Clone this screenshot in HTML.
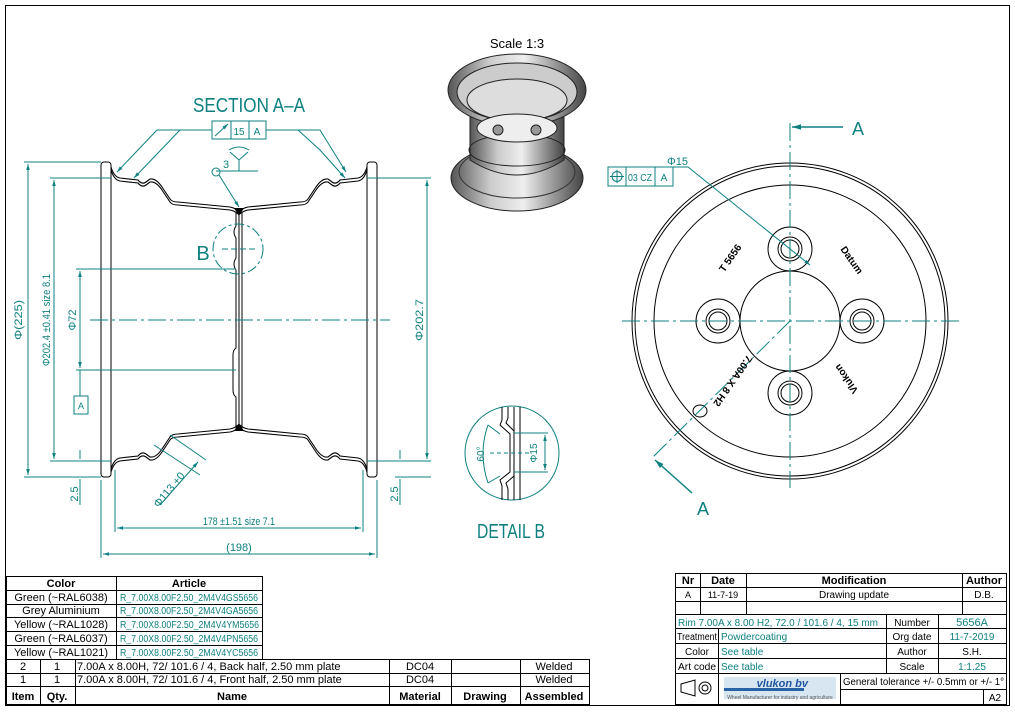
<!DOCTYPE html>
<html><head><meta charset="utf-8"><style>
html,body{margin:0;padding:0;background:#fff}
svg{display:block}
.t{font-family:"Liberation Sans",sans-serif;fill:#0e8080}
.k{font-family:"Liberation Sans",sans-serif;fill:#000}
.tb{font-family:"Liberation Sans",sans-serif;font-weight:bold;fill:#000}
</style></head><body>
<svg width="1015" height="714" viewBox="0 0 1015 714" xmlns="http://www.w3.org/2000/svg">
<defs>
<linearGradient id="g1" x1="0" x2="1"><stop offset="0" stop-color="#555"/><stop offset=".3" stop-color="#ccc"/><stop offset=".55" stop-color="#eee"/><stop offset="1" stop-color="#444"/></linearGradient>
<path id="prof" d="M111,167 Q114,177 120,178 L138,180 Q142,185 146,182 L150,179 Q156,178 162,187 L170,199 Q172,202 178,202 L230,207 Q235,208 238,211" fill="none" stroke="#000" stroke-width="1.1"/>
<g id="half">
<use href="#prof"/>
<use href="#prof" transform="translate(0,3)"/>
</g>
<marker id="ar" viewBox="0 0 10 10" refX="10" refY="5" markerWidth="8" markerHeight="6" orient="auto-start-reverse"><path d="M0,2 L10,5 L0,8z" fill="#0e8080"/></marker>
</defs>
<rect x="5.5" y="5.5" width="1004" height="700" fill="none" stroke="#000" stroke-width="1"/>

<!-- SECTION A-A -->
<text x="193" y="112" class="t" font-size="20" textLength="112" lengthAdjust="spacingAndGlyphs">SECTION A–A</text>
<g stroke="#000" fill="none" stroke-width="1">
<rect x="101" y="162" width="10" height="315" rx="3"/>
<rect x="367" y="162" width="10" height="315" rx="3"/>
<use href="#half"/>
<use href="#half" transform="matrix(-1,0,0,1,478,0)"/>
<use href="#half" transform="matrix(1,0,0,-1,0,639)"/>
<use href="#half" transform="matrix(-1,0,0,-1,478,639)"/>
<path d="M236,212 V226 Q232,232 236,238 V258 Q232,264 236,270 V348 Q233,350 233,355 V390 Q233,395 236,397 V428"/>
<path d="M239,212 V428 M242,212 V428"/>
</g>
<path d="M234,208 L244,208 L239,216z M234,431 L244,431 L239,423z" fill="#000"/>
<g stroke="#0e8080" fill="none" stroke-width="1">
<line x1="90" y1="320" x2="390" y2="320" stroke-dasharray="18,4,3,4"/>
<circle cx="238" cy="249" r="25" stroke-dasharray="10,3,3,3"/>
<line x1="222" y1="249" x2="256" y2="249" stroke-dasharray="6,3"/>
<rect x="212" y="121" width="54" height="18"/>
<line x1="231" y1="121" x2="231" y2="139"/><line x1="249" y1="121" x2="249" y2="139"/>
<line x1="215" y1="136" x2="228" y2="124" marker-end="url(#ar)"/>
<path d="M212,130 H157 L117,172" marker-end="url(#ar)"/>
<path d="M180,130 L134,178" marker-end="url(#ar)"/>
<path d="M266,130 H320 L346,172" marker-end="url(#ar)"/>
<path d="M298,130 L320,150 L345,178" marker-end="url(#ar)"/>
<circle cx="216" cy="172" r="4"/>
<path d="M219,175 L239,207" marker-end="url(#ar)"/>
<path d="M216,171 H258 M239,171 V160 M230,152 L239,160 L248,152 M229,150 Q239,144 249,150"/>
<path d="M24,162 H101 M24,477 H101 M50,178 H111 M50,461 H111 M76,269 H236 M76,370 H236 M367,178 H431 M367,461 H431 M76,477 H101 M395,461 H431 M395,477 H431"/>
<line x1="28" y1="164" x2="28" y2="475" marker-start="url(#ar)" marker-end="url(#ar)"/>
<line x1="54" y1="180" x2="54" y2="459" marker-start="url(#ar)" marker-end="url(#ar)"/>
<line x1="80" y1="271" x2="80" y2="368" marker-start="url(#ar)" marker-end="url(#ar)"/>
<line x1="80" y1="370" x2="80" y2="396"/>
<rect x="74" y="396" width="14" height="18"/>
<line x1="427" y1="180" x2="427" y2="459" marker-start="url(#ar)" marker-end="url(#ar)"/>
<path d="M80,450 V459 M80,479 V505 M400,450 V459 M400,479 V505"/>
<path d="M115,470 V532 M363,470 V532 M101,480 V558 M377,480 V558"/>
<line x1="117" y1="528" x2="361" y2="528" marker-start="url(#ar)" marker-end="url(#ar)"/>
<line x1="103" y1="554" x2="375" y2="554" marker-start="url(#ar)" marker-end="url(#ar)"/>
<path d="M154,445 L200,475 M170,435 L206,460"/>
<line x1="160" y1="505" x2="198" y2="462" marker-end="url(#ar)"/>
</g>
<g class="t" font-size="11" text-anchor="middle">
<text x="22" y="320" transform="rotate(-90 22 320)" textLength="40" lengthAdjust="spacingAndGlyphs">Φ(225)</text>
<text x="50" y="320" transform="rotate(-90 50 320)" textLength="92" lengthAdjust="spacingAndGlyphs">Φ202.4 ±0.41 size 8.1</text>
<text x="76" y="320" transform="rotate(-90 76 320)">Φ72</text>
<text x="423" y="320" transform="rotate(-90 423 320)" textLength="42" lengthAdjust="spacingAndGlyphs">Φ202.7</text>
<text x="78" y="494" transform="rotate(-90 78 494)">2.5</text>
<text x="398" y="494" transform="rotate(-90 398 494)">2.5</text>
<text x="239" y="525" textLength="72" lengthAdjust="spacingAndGlyphs">178 ±1.51 size 7.1</text>
<text x="239" y="551">(198)</text>
<text x="172" y="492" transform="rotate(-50 172 492)">Φ113 +0</text>
</g>
<text x="81" y="409" class="t" font-size="9" text-anchor="middle">A</text>
<text x="239" y="135" class="t" font-size="10" text-anchor="middle">15</text>
<text x="257" y="135" class="t" font-size="10" text-anchor="middle">A</text>
<text x="223" y="168" class="t" font-size="11">3</text>
<text x="203" y="260" class="t" font-size="20" text-anchor="middle">B</text>

<!-- 3D view -->
<text x="517" y="48" class="k" font-size="13" text-anchor="middle">Scale 1:3</text>
<g stroke="#222" stroke-width="1">
<ellipse cx="517" cy="178" rx="66" ry="33" fill="url(#g1)"/>
<ellipse cx="517" cy="172" rx="58" ry="26" fill="none" stroke="#333"/>
<path d="M470,100 L470,160 Q517,190 564,160 L564,100z" fill="url(#g1)"/>
<ellipse cx="517" cy="150" rx="48" ry="16" fill="none"/>
<ellipse cx="517" cy="90" rx="69" ry="36" fill="url(#g1)"/>
<ellipse cx="517" cy="92" rx="60" ry="29" fill="#ccc"/>
<ellipse cx="517" cy="100" rx="50" ry="21" fill="#ddd"/>
<ellipse cx="517" cy="128" rx="40" ry="14" fill="#eee"/>
<circle cx="498" cy="130" r="5" fill="#999"/><circle cx="536" cy="130" r="5" fill="#999"/>
</g>

<!-- DETAIL B -->
<circle cx="512" cy="453" r="47" fill="none" stroke="#0e8080"/>
<g stroke="#000" fill="none" stroke-width="1">
<path d="M502,407 V420 L500,425 L510,434 V472 L500,480 L502,486 V500"/>
<path d="M508,407 V418 L506,423 L514,431 V476 L506,483 L508,489 V500"/>
<path d="M514,407 V500 M520,407 V500"/>
</g>
<g stroke="#0e8080" fill="none">
<path d="M514,433 H548 M514,472 H548"/>
<line x1="545" y1="435" x2="545" y2="470" marker-start="url(#ar)" marker-end="url(#ar)"/>
<line x1="490" y1="453" x2="530" y2="453" stroke-dasharray="4,3"/>
<path d="M488,425 Q478,453 488,483"/>
<path d="M488,425 L500,434 M488,483 L500,476"/>
</g>
<text x="537" y="453" class="t" font-size="10" transform="rotate(-90 537 453)" text-anchor="middle">Φ15</text>
<text x="484" y="454" class="t" font-size="10" transform="rotate(-90 484 454)" text-anchor="middle">60°</text>
<text x="477" y="538" class="t" font-size="20" textLength="68" lengthAdjust="spacingAndGlyphs">DETAIL B</text>

<!-- FRONT VIEW -->
<g stroke="#000" fill="none" stroke-width="1">
<circle cx="790" cy="321" r="158"/><circle cx="790" cy="321" r="155"/><circle cx="790" cy="321" r="136"/>
<circle cx="790" cy="321" r="50"/>
<g id="bh"><circle cx="790" cy="249" r="22"/><circle cx="790" cy="249" r="12"/><circle cx="790" cy="249" r="9"/></g>
<use href="#bh" transform="rotate(90 790 321)"/><use href="#bh" transform="rotate(180 790 321)"/><use href="#bh" transform="rotate(270 790 321)"/>
<ellipse cx="700" cy="411" rx="7" ry="6"/>
</g>
<g stroke="#0e8080" fill="none">
<line x1="622" y1="321" x2="960" y2="321" stroke-dasharray="18,4,3,4"/>
<line x1="790" y1="123" x2="790" y2="488" stroke-dasharray="18,4,3,4"/>
<line x1="790" y1="321" x2="652" y2="458" stroke-dasharray="18,4,3,4"/>
<line x1="843" y1="127" x2="792" y2="127" marker-end="url(#ar)" stroke-width="1.5"/>
<line x1="692" y1="493" x2="655" y2="460" marker-end="url(#ar)" stroke-width="1.5"/>
<rect x="608" y="167" width="65" height="19"/>
<line x1="626" y1="167" x2="626" y2="186"/><line x1="655" y1="167" x2="655" y2="186"/>
<circle cx="617" cy="176.5" r="5"/><path d="M610,176.5 H624 M617,170 V183"/>
<path d="M673,167 H688 L810,265" marker-end="url(#ar)"/>
</g>
<text x="858" y="135" class="t" font-size="18" text-anchor="middle">A</text>
<text x="703" y="515" class="t" font-size="18" text-anchor="middle">A</text>
<text x="667" y="165" class="t" font-size="11">Φ15</text>
<text x="640" y="181" class="t" font-size="10" text-anchor="middle" textLength="24" lengthAdjust="spacingAndGlyphs">03 CZ</text>
<text x="664" y="181" class="t" font-size="10" text-anchor="middle">A</text>
<g class="k" font-size="10" font-weight="bold" text-anchor="middle">
<text transform="translate(733,260) rotate(-55)">T 5656</text>
<text transform="translate(849,262) rotate(55)">Datum</text>
<text transform="translate(730,379) rotate(125)">7.00A X 8 H2</text>
<text transform="translate(849,377) rotate(235)">Vlukon</text>
</g>

<!-- Color table -->
<g stroke="#000" fill="none" stroke-width="1">
<rect x="6.5" y="576.5" width="256" height="83"/>
<path d="M116.5,576.5 V659.5 M6.5,590.5 H262.5 M6.5,604.5 H262.5 M6.5,617.5 H262.5 M6.5,631.5 H262.5 M6.5,645.5 H262.5"/>
<rect x="6.5" y="659.5" width="583" height="45"/>
<path d="M6.5,673.5 H589.5 M6.5,686.5 H589.5 M40.5,659.5 V704.5 M75.5,659.5 V704.5 M389.5,659.5 V704.5 M451.5,659.5 V704.5 M520.5,659.5 V704.5"/>
</g>
<g font-size="11" text-anchor="middle">
<text x="61" y="587" class="tb">Color</text><text x="189" y="587" class="tb">Article</text>
<text x="61" y="601" class="k">Green (~RAL6038)</text>
<text x="61" y="614" class="k">Grey Aluminium</text>
<text x="61" y="628" class="k">Yellow (~RAL1028)</text>
<text x="61" y="642" class="k">Green (~RAL6037)</text>
<text x="61" y="656" class="k">Yellow (~RAL1021)</text>
</g>
<g class="t" font-size="10">
<text x="120" y="601" textLength="138" lengthAdjust="spacingAndGlyphs">R_7.00X8.00F2.50_2M4V4GS5656</text>
<text x="120" y="614" textLength="138" lengthAdjust="spacingAndGlyphs">R_7.00X8.00F2.50_2M4V4GA5656</text>
<text x="120" y="628" textLength="139" lengthAdjust="spacingAndGlyphs">R_7.00X8.00F2.50_2M4V4YM5656</text>
<text x="120" y="642" textLength="138" lengthAdjust="spacingAndGlyphs">R_7.00X8.00F2.50_2M4V4PN5656</text>
<text x="120" y="656" textLength="138" lengthAdjust="spacingAndGlyphs">R_7.00X8.00F2.50_2M4V4YC5656</text>
</g>
<g class="k" font-size="11">
<text x="23" y="670" text-anchor="middle">2</text><text x="57" y="670" text-anchor="middle">1</text>
<text x="77" y="670">7.00A x 8.00H,  72/ 101.6 / 4, Back half, 2.50 mm plate</text>
<text x="420" y="670" text-anchor="middle">DC04</text><text x="554" y="670" text-anchor="middle">Welded</text>
<text x="23" y="683" text-anchor="middle">1</text><text x="57" y="683" text-anchor="middle">1</text>
<text x="77" y="683">7.00A x 8.00H,  72/ 101.6 / 4, Front half, 2.50 mm plate</text>
<text x="420" y="683" text-anchor="middle">DC04</text><text x="554" y="683" text-anchor="middle">Welded</text>
</g>
<g class="tb" font-size="11" text-anchor="middle">
<text x="23" y="700">Item</text><text x="57" y="700">Qty.</text><text x="232" y="700">Name</text>
<text x="420" y="700">Material</text><text x="485" y="700">Drawing</text><text x="554" y="700">Assembled</text>
</g>

<!-- Title block -->
<g stroke="#000" fill="none" stroke-width="1">
<rect x="675.5" y="573.5" width="331" height="131"/>
<path d="M675.5,587.5 H1006.5 M675.5,601.5 H1006.5 M675.5,614.5 H1006.5 M675.5,628.5 H1006.5 M675.5,643.5 H1006.5 M675.5,658.5 H1006.5 M675.5,673.5 H1006.5"/>
<path d="M700.5,573.5 V614.5 M746.5,573.5 V614.5 M962.5,573.5 V614.5"/>
<path d="M718.5,628.5 V704.5 M886.5,614.5 V673.5 M938.5,614.5 V673.5 M840.5,673.5 V704.5 M840.5,689.5 H1006.5 M983.5,689.5 V704.5"/>
<path d="M681,684 L695,680 V696 L681,692z"/><circle cx="705" cy="688" r="6"/><circle cx="705" cy="688" r="3"/>
</g>
<g font-size="11" text-anchor="middle">
<text x="688" y="584" class="tb">Nr</text><text x="723" y="584" class="tb">Date</text><text x="854" y="584" class="tb">Modification</text><text x="984" y="584" class="tb">Author</text>
<text x="688" y="598" class="k" font-size="9">A</text><text x="723" y="598" class="k" font-size="9">11-7-19</text><text x="854" y="598" class="k" font-size="10">Drawing update</text><text x="984" y="598" class="k" font-size="10">D.B.</text>
</g>
<g class="k" font-size="10">
<text x="677" y="640" textLength="40" lengthAdjust="spacingAndGlyphs">Treatment</text>
<text x="697" y="655" text-anchor="middle">Color</text>
<text x="697" y="670" text-anchor="middle" textLength="38" lengthAdjust="spacingAndGlyphs">Art code</text>
<text x="912" y="626" text-anchor="middle">Number</text>
<text x="912" y="640" text-anchor="middle">Org date</text>
<text x="912" y="655" text-anchor="middle">Author</text>
<text x="912" y="670" text-anchor="middle">Scale</text>
<text x="972" y="655" text-anchor="middle">S.H.</text>
<text x="843" y="685" textLength="161" lengthAdjust="spacingAndGlyphs">General tolerance +/- 0.5mm or +/- 1°</text>
<text x="995" y="701" text-anchor="middle">A2</text>
</g>
<g class="t" font-size="10">
<text x="678" y="626" textLength="200" lengthAdjust="spacingAndGlyphs">Rim 7.00A x 8.00 H2,  72.0 / 101.6 / 4,  15 mm</text>
<text x="721" y="640">Powdercoating</text>
<text x="721" y="655">See table</text>
<text x="721" y="670">See table</text>
<text x="972" y="626" text-anchor="middle" font-size="11">5656A</text>
<text x="972" y="640" text-anchor="middle">11-7-2019</text>
<text x="972" y="670" text-anchor="middle">1:1.25</text>
</g>
<rect x="724" y="677" width="112" height="22" fill="#d8e6f2"/>
<rect x="724" y="688" width="80" height="3" fill="#2a62a8"/>
<text x="808" y="687" font-family="Liberation Sans" font-style="italic" font-weight="bold" font-size="11" fill="#1f55a0" text-anchor="end">vlukon bv</text>
<text x="780" y="699" font-family="Liberation Sans" font-size="5" fill="#555" text-anchor="middle">Wheel Manufacturer for industry and agriculture</text>
</svg>
</body></html>
